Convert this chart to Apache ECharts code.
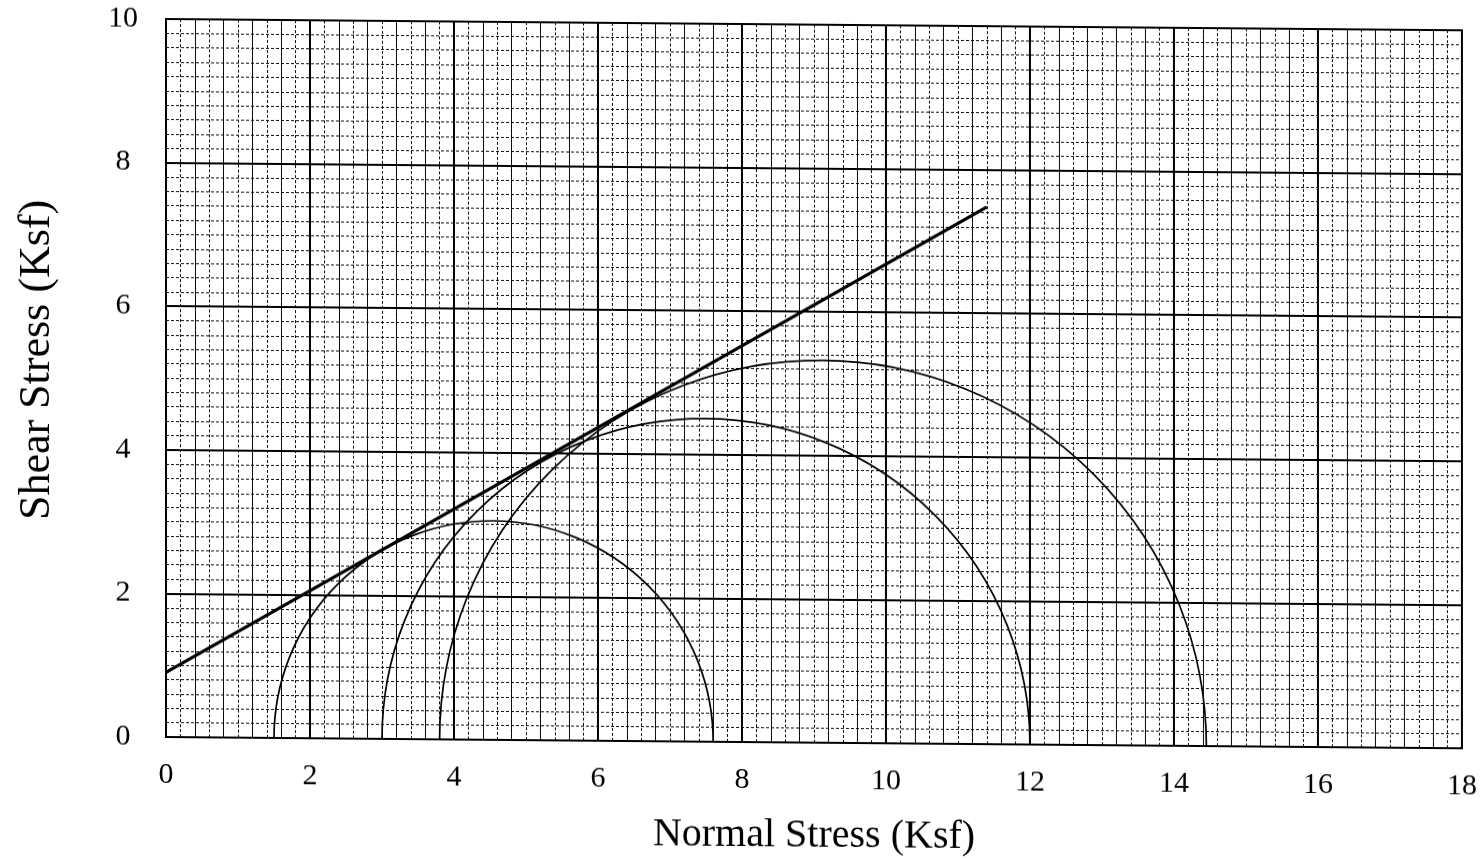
<!DOCTYPE html>
<html>
<head>
<meta charset="utf-8">
<script src="https://cdn.jsdelivr.net/npm/echarts@6/dist/echarts.min.js"></script>
<style>
html,body{margin:0;padding:0;background:#fff;}
#chart{width:1482px;height:859px;transform:skewY(0.5deg);transform-origin:166px 737px;}
</style>
</head>
<body>
<div id="chart"></div>
<script>
// Mohr circles: minor (sigma3) and major (sigma1) principal stresses, Ksf
const sigma3 = [1.5, 3.0, 3.8];
const sigma1 = [7.6, 12.0, 14.45];
// Failure envelope end points
const envelopeX = [0, 11.4];
const envelopeY = [0.9, 7.48];
// Axis ranges / tick labels
const xTicks = [0, 2, 4, 6, 8, 10, 12, 14, 16, 18];
const yTicks = [0, 2, 4, 6, 8, 10];

const FONT = '"Liberation Serif", "Times New Roman", serif';
const chart = echarts.init(document.getElementById('chart'), null, {renderer: 'canvas'});

function hiddenAxis(extra) {
  return Object.assign({
    type: 'value', gridIndex: 0,
    axisLabel: {show: false}, axisLine: {show: false}, axisTick: {show: false}
  }, extra);
}

const circleData = sigma3.map((s, i) => [s, sigma1[i]]);
const envelopeData = envelopeX.map((x, i) => [x, envelopeY[i]]);

chart.setOption({
  animation: false,
  backgroundColor: '#fff',
  grid: {left: 166, top: 19, width: 1296, height: 718, show: true, borderColor: '#000', borderWidth: 2, backgroundColor: 'transparent'},
  xAxis: [
    {
      type: 'value', min: xTicks[0], max: xTicks[xTicks.length - 1], interval: 2,
      axisLine: {show: false}, axisTick: {show: false},
      axisLabel: {color: '#000', fontFamily: FONT, fontSize: 30, margin: 23},
      splitLine: {show: true, lineStyle: {color: '#000', width: 2}}, z: 3
    },
    hiddenAxis({min: 0, max: 18, interval: 0.4, splitLine: {show: true, lineStyle: {color: '#000', width: 1}}}),
    hiddenAxis({min: 0, max: 18, interval: 0.2, splitLine: {show: true, lineStyle: {color: '#111', width: 1, type: [3, 2]}}})
  ],
  yAxis: [
    {
      type: 'value', min: yTicks[0], max: yTicks[yTicks.length - 1], interval: 2,
      axisLine: {show: false}, axisTick: {show: false},
      axisLabel: {color: '#000', fontFamily: FONT, fontSize: 30, margin: 43, align: 'center'},
      splitLine: {show: true, lineStyle: {color: '#000', width: 2}}, z: 3
    },
    hiddenAxis({min: 0, max: 10, interval: 0.2, splitLine: {show: true, lineStyle: {color: '#111', width: 1, type: [3, 2]}}})
  ],
  graphic: [
    {type: 'text', x: 814, y: 830, z: 10,
     style: {text: 'Normal Stress (Ksf)', font: '40px ' + FONT, fill: '#000', textAlign: 'center', textVerticalAlign: 'middle'}},
    {type: 'text', x: 37, y: 361, rotation: Math.PI / 2, z: 10,
     style: {text: 'Shear Stress (Ksf)', font: '44px ' + FONT, fill: '#000', textAlign: 'center', textVerticalAlign: 'middle'}}
  ],
  series: [
    {
      type: 'custom', xAxisIndex: 0, yAxisIndex: 0, z: 5,
      data: circleData,
      renderItem: function (params, api) {
        const a = api.value(0), b = api.value(1);
        const p1 = api.coord([a, 0]);
        const p2 = api.coord([b, 0]);
        const r = (b - a) / 2;
        const rx = api.size([r, 0])[0];
        const ry = api.size([0, r])[1];
        return {
          type: 'path',
          shape: {pathData: 'M' + p1[0] + ' ' + p1[1] + ' A' + rx + ' ' + ry + ' 0 0 1 ' + p2[0] + ' ' + p2[1]},
          style: {stroke: '#000', lineWidth: 1.7, fill: null}
        };
      }
    },
    {
      type: 'line', xAxisIndex: 0, yAxisIndex: 0, z: 6,
      data: envelopeData, symbol: 'none',
      lineStyle: {color: '#000', width: 3.2}
    }
  ]
});
</script>
</body>
</html>
